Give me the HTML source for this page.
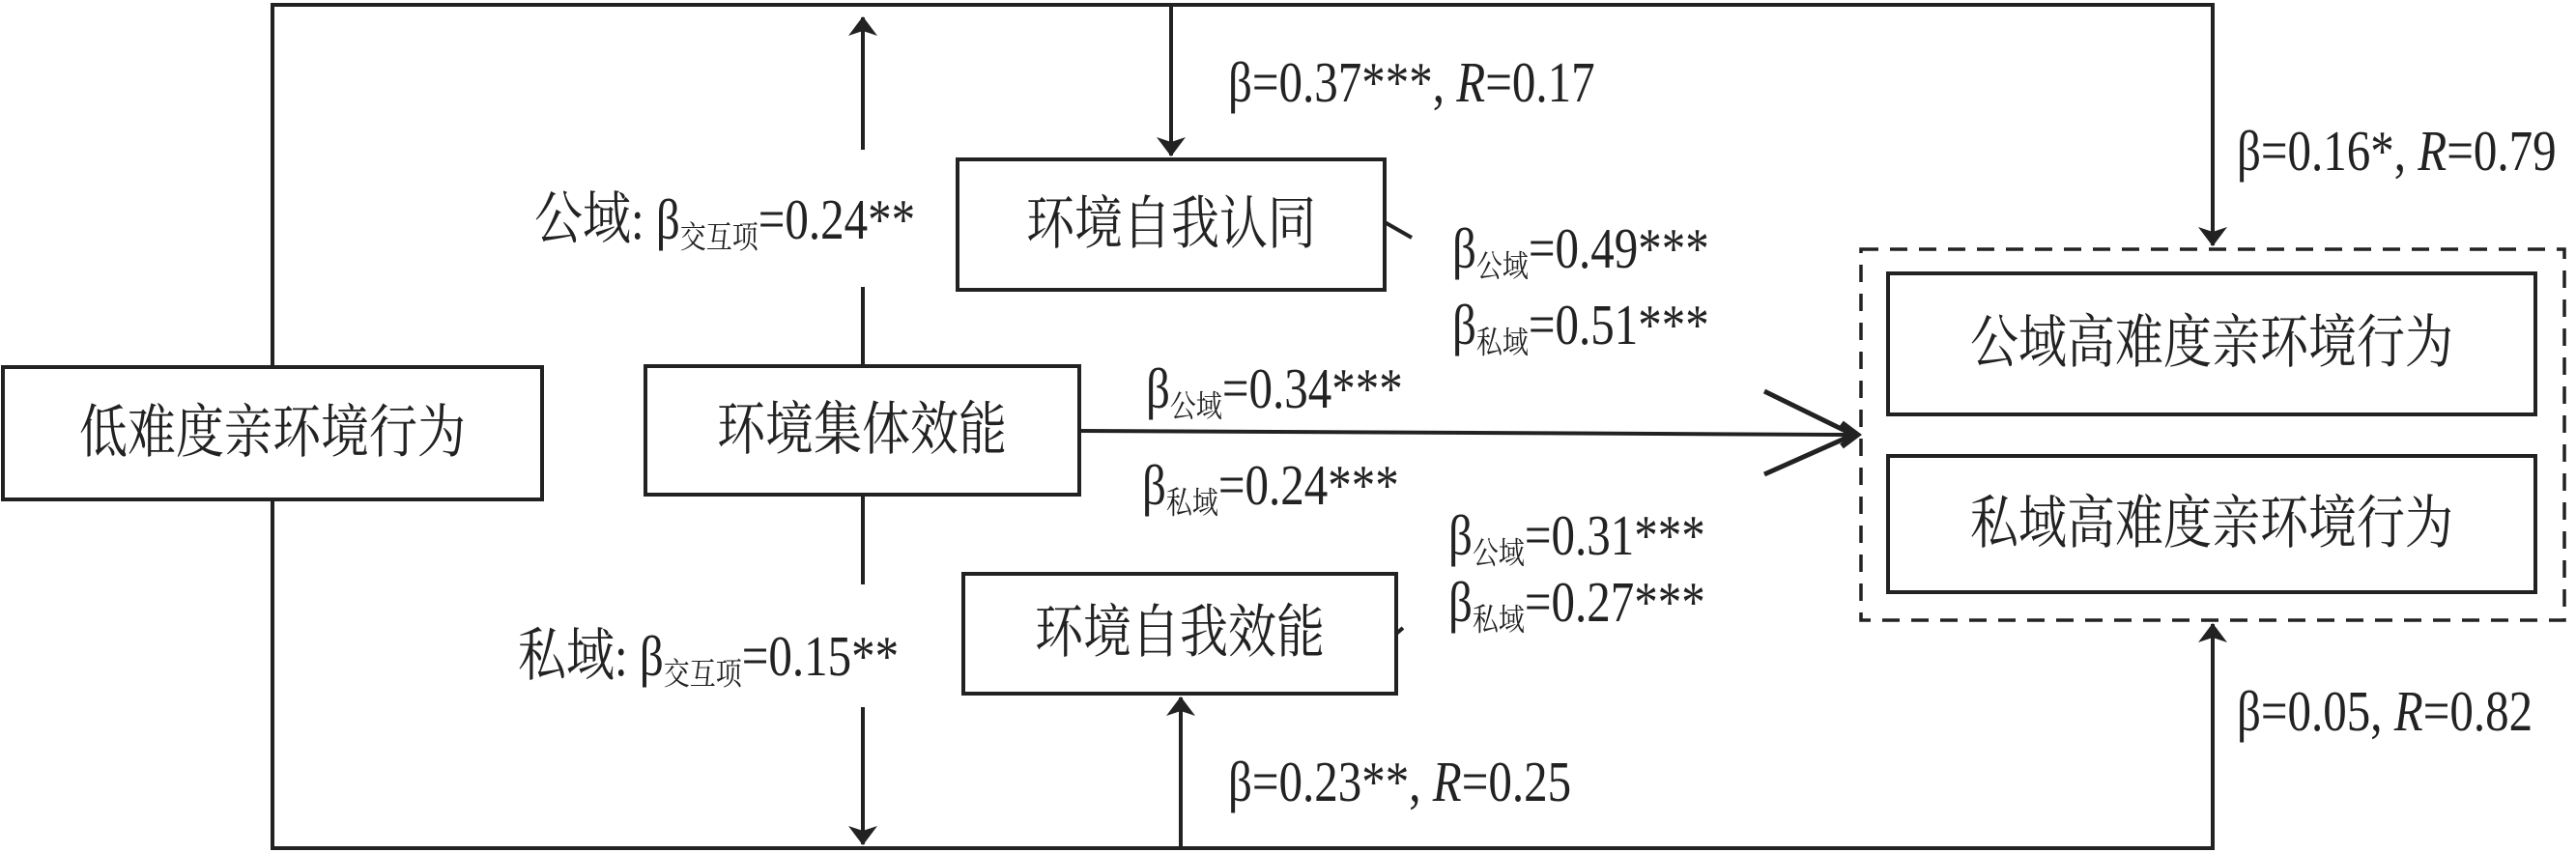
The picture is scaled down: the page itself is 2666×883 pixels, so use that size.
<!DOCTYPE html>
<html><head><meta charset="utf-8"><style>
html,body{margin:0;padding:0;background:#fff;}
svg{display:block;}
.t{font-family:'Liberation Serif','Times New Roman',Times,'DejaVu Serif',serif;font-size:49px;fill:#222;}
.c{font-family:'Noto Serif CJK SC','Liberation Serif',serif;font-size:50px;fill:#222;}
.s{font-family:'Noto Serif CJK SC',serif;font-size:27px;}
</style></head><body>
<svg width="2666" height="883" viewBox="0 0 2666 883" xmlns="http://www.w3.org/2000/svg">
<defs>
<marker id="a" viewBox="0 0 20 30" refX="19" refY="15" markerWidth="20" markerHeight="30" markerUnits="userSpaceOnUse" orient="auto">
<path d="M0,0 L20,15 L0,30 L5,15 Z" fill="#222"/>
</marker>
</defs>
<g stroke="#222" stroke-width="4" fill="none">
<polyline points="282,380 282,5 2290,5 2290,254" marker-end="url(#a)"/>
<polyline points="282,517 282,878 2290,878 2290,646" marker-end="url(#a)"/>
<rect x="3" y="380" width="558" height="137"/>
<rect x="668" y="379" width="449" height="133"/>
<rect x="991" y="165" width="442" height="135"/>
<rect x="997" y="594" width="448" height="124"/>
<rect x="1954" y="283" width="670" height="146"/>
<rect x="1954" y="472" width="670" height="141"/>
<rect x="1926" y="258" width="728" height="384" stroke-dasharray="18,12" stroke-width="3.5"/>
<line x1="893" y1="155" x2="893" y2="18" marker-end="url(#a)"/>
<line x1="893" y1="297" x2="893" y2="379"/>
<line x1="893" y1="512" x2="893" y2="605"/>
<line x1="893" y1="732" x2="893" y2="874" marker-end="url(#a)"/>
<line x1="1212" y1="5" x2="1212" y2="161" marker-end="url(#a)"/>
<line x1="1222" y1="878" x2="1222" y2="722" marker-end="url(#a)"/>
<line x1="1117" y1="446" x2="1914" y2="450"/>
<polyline points="1826,405 1918,450 1826,491" stroke-width="5"/>
<path d="M1906,438 L1922,450 L1906,462" stroke-width="6"/>
<line x1="1433" y1="230" x2="1461" y2="246"/>
<line x1="1445" y1="656" x2="1452" y2="650"/>
</g>
<g class="c" text-anchor="middle">
<text transform="translate(282,468) scale(1,1.2)">低难度亲环境行为</text>
<text transform="translate(892,465) scale(1,1.2)">环境集体效能</text>
<text transform="translate(1212,252) scale(1,1.2)">环境自我认同</text>
<text transform="translate(1221,675) scale(1,1.2)">环境自我效能</text>
<text transform="translate(2289,375) scale(1,1.2)">公域高难度亲环境行为</text>
<text transform="translate(2289,562) scale(1,1.2)">私域高难度亲环境行为</text>
</g>
<g class="t">
<text transform="translate(553,247) scale(1,1.2)"><tspan style="font-family:'Noto Serif CJK SC',serif;font-size:50px">公域</tspan>: β<tspan class="s" dy="8">交互项</tspan><tspan dy="-8">=0.24**</tspan></text>
<text transform="translate(536,699) scale(1,1.2)"><tspan style="font-family:'Noto Serif CJK SC',serif;font-size:50px">私域</tspan>: β<tspan class="s" dy="8">交互项</tspan><tspan dy="-8">=0.15**</tspan></text>
<text transform="translate(1271,105) scale(1,1.2)">β=0.37***, <tspan font-style="italic">R</tspan>=0.17</text>
<text transform="translate(2315,176) scale(1,1.2)">β=0.16*, <tspan font-style="italic">R</tspan>=0.79</text>
<text transform="translate(1271,829) scale(1,1.2)">β=0.23**, <tspan font-style="italic">R</tspan>=0.25</text>
<text transform="translate(2315,756) scale(1,1.2)">β=0.05, <tspan font-style="italic">R</tspan>=0.82</text>
<text transform="translate(1503,277) scale(1,1.2)">β<tspan class="s" dy="8">公域</tspan><tspan dy="-8">=0.49***</tspan></text>
<text transform="translate(1503,356) scale(1,1.2)">β<tspan class="s" dy="8">私域</tspan><tspan dy="-8">=0.51***</tspan></text>
<text transform="translate(1186,422) scale(1,1.2)">β<tspan class="s" dy="8">公域</tspan><tspan dy="-8">=0.34***</tspan></text>
<text transform="translate(1182,522) scale(1,1.2)">β<tspan class="s" dy="8">私域</tspan><tspan dy="-8">=0.24***</tspan></text>
<text transform="translate(1499,574) scale(1,1.2)">β<tspan class="s" dy="8">公域</tspan><tspan dy="-8">=0.31***</tspan></text>
<text transform="translate(1499,643) scale(1,1.2)">β<tspan class="s" dy="8">私域</tspan><tspan dy="-8">=0.27***</tspan></text>
</g>
</svg>
</body></html>
